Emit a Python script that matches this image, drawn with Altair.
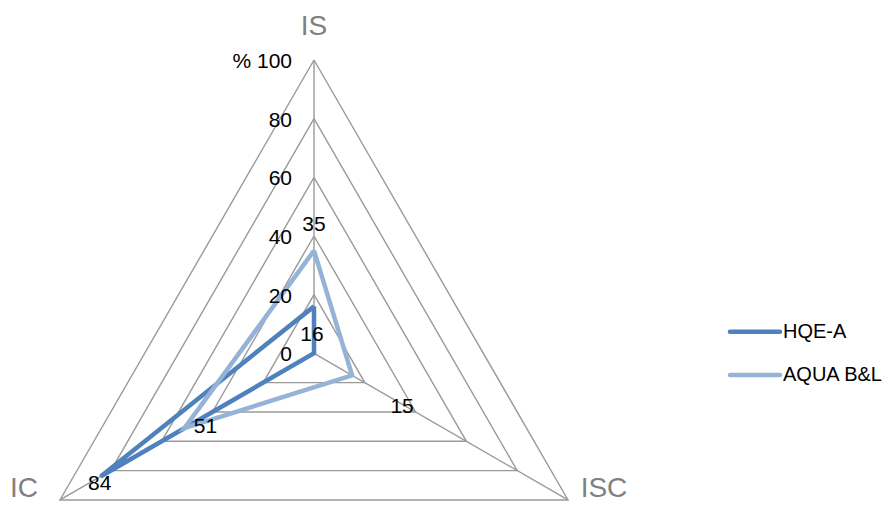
import altair as alt
import numpy as np
import pandas as pd

# ---------------- data ----------------
axis_names = ["IS", "ISC", "IC"]
series_names = ["HQE-A", "AQUA B&L"]
hqe_values = [16, 0, 84]
aqua_values = [35, 15, 51]
grid_levels = [20, 40, 60, 80, 100]
tick_values = [0, 20, 40, 60, 80, 100]
tick_labels = ["0", "20", "40", "60", "80", "% 100"]
# data points that carry a value label (series, axis)
labelled_points = [("HQE-A", "IS"), ("AQUA B&L", "IS"), ("AQUA B&L", "ISC"),
                   ("AQUA B&L", "IC"), ("HQE-A", "IC")]

# ---------------- layout / style ----------------
W, H = 879, 495
CX, CY = 306.0, 345.3        # radar centre in plot pixels
PX = 2.933                   # pixels per percent
angles_deg = [0, 120, 240]   # IS up, ISC lower right, IC lower left
colors = ["#4F81BD", "#95B3D7"]
grid_color = "#9A9A9A"
name_color = "#808080"
# pixel offsets (dx, dy-down) of value labels from their points
label_offsets = {("HQE-A", "IS"): (-2, 29), ("AQUA B&L", "IS"): (0, -26),
                 ("AQUA B&L", "ISC"): (50, 32), ("AQUA B&L", "IC"): (21, -1),
                 ("HQE-A", "IC"): (-1, 8)}
# baseline offsets of the axis names from their vertices
name_offsets = [(0, -25), (36, -2.5), (-36, -2.5)]
legend_line_px = (722, 772)
legend_rows_px = [323.7, 367.0]
legend_text_px = 775

xmin, xmax = -CX / PX, (W - CX) / PX
ymax, ymin = CY / PX, -(H - CY) / PX


def polar(r, ang):
    a = np.deg2rad(ang)
    return r * np.sin(a), r * np.cos(a)


def px_to_data(px, py):
    return (px - CX) / PX, (CY - py) / PX


# series polygons
rows = []
for s, vals in zip(series_names, [hqe_values, aqua_values]):
    for i in range(len(axis_names) + 1):
        k = i % len(axis_names)
        x, y = polar(vals[k], angles_deg[k])
        rows.append({"series": s, "axis": axis_names[k], "value": vals[k],
                     "x": x, "y": y, "order": i})
series_df = pd.DataFrame(rows)

# grid triangles
grid_rows = []
for lv in grid_levels:
    for i in range(len(axis_names) + 1):
        k = i % len(axis_names)
        x, y = polar(lv, angles_deg[k])
        grid_rows.append({"level": lv, "x": x, "y": y, "order": i})
grid_df = pd.DataFrame(grid_rows)

# spokes
spoke_rows = []
for k, name in enumerate(axis_names):
    x, y = polar(100, angles_deg[k])
    spoke_rows.append({"axis": name, "x": 0.0, "y": 0.0, "x2": x, "y2": y})
spoke_df = pd.DataFrame(spoke_rows)

# tick labels
tick_df = pd.DataFrame({"x": [0.0] * len(tick_values), "y": tick_values,
                        "label": tick_labels})

# value labels
lab_rows = []
for s, a in labelled_points:
    vals = hqe_values if s == "HQE-A" else aqua_values
    k = axis_names.index(a)
    x, y = polar(vals[k], angles_deg[k])
    dx, dy = label_offsets[(s, a)]
    lab_rows.append({"x": x + dx / PX, "y": y - dy / PX, "label": str(vals[k])})
lab_df = pd.DataFrame(lab_rows)

# axis names
name_rows = []
for k, name in enumerate(axis_names):
    x, y = polar(100, angles_deg[k])
    dx, dy = name_offsets[k]
    name_rows.append({"x": x + dx / PX, "y": y - dy / PX, "label": name})
name_df = pd.DataFrame(name_rows)

# legend
leg_rows = []
for s, py in zip(series_names, legend_rows_px):
    x1, y1 = px_to_data(legend_line_px[0], py)
    x2, _ = px_to_data(legend_line_px[1], py)
    xt, _ = px_to_data(legend_text_px, py)
    leg_rows.append({"series": s, "x": x1, "x2": x2, "y": y1, "xt": xt})
leg_df = pd.DataFrame(leg_rows)

xs = alt.Scale(domain=[xmin, xmax], nice=False, zero=False)
ys = alt.Scale(domain=[ymin, ymax], nice=False, zero=False)
cs = alt.Scale(domain=series_names, range=colors)

X = lambda f="x": alt.X(f"{f}:Q", scale=xs, axis=None)
Y = lambda f="y": alt.Y(f"{f}:Q", scale=ys, axis=None)

grid = alt.Chart(grid_df).mark_line(color=grid_color, strokeWidth=1.4).encode(
    x=X(), y=Y(), detail="level:N", order="order:Q")

spokes = alt.Chart(spoke_df).mark_rule(color=grid_color, strokeWidth=1.4).encode(
    x=X(), y=Y(), x2="x2:Q", y2="y2:Q")

lines = []
for s in series_names:
    lines.append(
        alt.Chart(series_df[series_df["series"] == s]).mark_line(
            strokeWidth=4.5, strokeJoin="miter").encode(
            x=X(), y=Y(), order="order:Q",
            color=alt.Color("series:N", scale=cs, legend=None)))

ticks = alt.Chart(tick_df).mark_text(
    align="right", baseline="middle", dx=-22, dy=2, fontSize=21,
    font="Liberation Sans", color="#000000").encode(x=X(), y=Y(), text="label:N")

vlabels = alt.Chart(lab_df).mark_text(
    align="center", baseline="middle", fontSize=21, font="Liberation Sans",
    color="#000000").encode(x=X(), y=Y(), text="label:N")

names = alt.Chart(name_df).mark_text(
    align="center", baseline="alphabetic", fontSize=28,
    font="Liberation Sans Narrow, Liberation Sans", color=name_color).encode(
    x=X(), y=Y(), text="label:N")

leg_lines = alt.Chart(leg_df).mark_rule(strokeWidth=4.5, strokeCap="round").encode(
    x=X(), x2="x2:Q", y=Y(),
    color=alt.Color("series:N", scale=cs, legend=None))

leg_text = alt.Chart(leg_df).mark_text(
    align="left", baseline="middle", fontSize=20, font="Liberation Sans",
    color="#000000").encode(x=X("xt"), y=Y(), text="series:N")

chart = alt.layer(grid, spokes, *lines, ticks, vlabels, names, leg_lines, leg_text).properties(
    width=W, height=H, autosize=alt.AutoSizeParams(type="none"), padding=0,
    background="white"
).configure_view(stroke=None)

chart.save("out.html", embed_options={"renderer": "svg", "actions": False})
